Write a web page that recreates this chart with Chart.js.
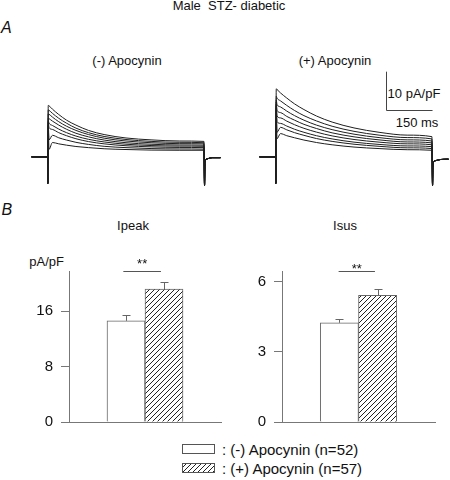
<!DOCTYPE html>
<html>
<head>
<meta charset="utf-8">
<script src="https://cdn.jsdelivr.net/npm/chart.js@4.4.0/dist/chart.umd.min.js"></script>
<style>
  body { margin: 0; background: #fff; }
  #fig { position: relative; width: 450px; height: 480px; overflow: hidden;
         font-family: 'Liberation Sans', Arial, sans-serif; color: #111; }
  .lbl { position: absolute; white-space: pre; line-height: 1; font-size: 13px; }
  .c { transform: translateX(-50%); }
  .r { transform: translateX(-100%); }
  canvas { position: absolute; }
</style>
</head>
<body>
<div id="fig">
  <div class="lbl c" style="left:229px; top:-1.5px;">Male  STZ- diabetic</div>
  <div class="lbl" style="left:1px; top:19.8px; font-size:16px; font-style:italic;">A</div>
  <div class="lbl c" style="left:127px; top:53.5px;">(-) Apocynin</div>
  <div class="lbl c" style="left:335px; top:53.5px;">(+) Apocynin</div>
  <div class="lbl c" style="left:414px; top:86.5px;">10 pA/pF</div>
  <div class="lbl c" style="left:417px; top:116.3px;">150 ms</div>
  <div class="lbl" style="left:1.5px; top:201.5px; font-size:16px; font-style:italic;">B</div>
  <div class="lbl c" style="left:133px; top:219px;">Ipeak</div>
  <div class="lbl c" style="left:345px; top:219px;">Isus</div>
  <div class="lbl r" style="left:64px; top:254.5px;">pA/pF</div>

  <canvas id="traceMinus" width="194" height="125" style="left:29px; top:66px;"></canvas>
  <canvas id="tracePlus" width="194" height="125" style="left:257px; top:66px;"></canvas>
  <canvas id="ipeak" width="201" height="190" style="left:24px; top:250px;"></canvas>
  <canvas id="isus" width="202" height="190" style="left:237px; top:250px;"></canvas>
  <div id="legend"></div>
</div>

<script>
// グループ
const groups = ['(-) Apocynin', '(+) Apocynin'];
const groupN = [52, 57];

// 棒グラフの値 (pA/pF)
const ipeakMean = [14.6, 19.2];
const ipeakSem = [0.8, 1.0];
const isusMean = [4.25, 5.43];
const isusSem = [0.18, 0.26];
const ipeakTicks = [0, 8, 16];
const isusTicks = [0, 3, 6];
const ipeakMax = 21.8;
const isusMax = 6.47;
const ipeakSig = [0.93, 1.92];
const isusSig = [0.98, 1.93];

// 電流トレース (ms, pA/pF)
const preTimes = [-52, -1, 0];
const preVals = [0, 0, -7];
const pulseTimes = [1.5, 4, 15, 35, 60, 90, 130, 180, 250, 330, 420, 499];
const tailTimes = [501, 502.5, 510, 525, 552];
const tailMinus = [-7.5, -1.4, -0.5, -0.2, -0.2];
const tailPlus = [-7.5, -1.8, -1.0, -0.7, -0.6];

const tracesMinus = [
  [13.6, 13.5, 12.6, 11.2, 9.7, 8.4, 7.0, 5.9, 5.0, 4.5, 4.2, 4.1],
  [12.4, 12.3, 11.5, 10.2, 8.9, 7.6, 6.4, 5.4, 4.6, 4.1, 3.85, 3.75],
  [11.3, 11.25, 10.5, 9.3, 8.1, 7.0, 5.9, 4.95, 4.2, 3.75, 3.5, 3.45],
  [10.2, 10.1, 9.45, 8.4, 7.3, 6.25, 5.3, 4.45, 3.75, 3.35, 3.15, 3.1],
  [9.5, 8.9, 8.3, 7.35, 6.4, 5.5, 4.65, 3.95, 3.35, 3.0, 2.85, 2.8],
  [9.0, 7.75, 7.25, 6.4, 5.6, 4.8, 4.05, 3.45, 2.95, 2.65, 2.5, 2.45],
  [8.5, 4.5, 5.7, 5.05, 4.45, 3.85, 3.3, 2.8, 2.45, 2.2, 2.1, 2.05],
  [8.0, 2.0, 3.8, 3.45, 3.1, 2.75, 2.45, 2.15, 1.95, 1.8, 1.75, 1.75]
];
const tracesPlus = [
  [18.0, 17.8, 16.9, 15.55, 14.0, 12.5, 10.8, 9.2, 7.65, 6.5, 5.75, 5.35],
  [16.0, 15.5, 14.8, 13.6, 12.25, 10.9, 9.5, 8.1, 6.75, 5.75, 5.1, 4.75],
  [15.0, 13.85, 13.2, 12.1, 10.9, 9.7, 8.4, 7.2, 6.0, 5.1, 4.5, 4.2],
  [14.5, 12.3, 11.7, 10.7, 9.7, 8.6, 7.5, 6.35, 5.3, 4.5, 3.95, 3.7],
  [14.0, 10.8, 10.3, 9.45, 8.5, 7.55, 6.55, 5.55, 4.6, 3.9, 3.45, 3.2],
  [13.5, 9.3, 8.85, 8.15, 7.3, 6.5, 5.6, 4.75, 3.9, 3.3, 2.9, 2.7],
  [13.0, 6.5, 7.8, 7.15, 6.4, 5.7, 4.85, 4.1, 3.35, 2.8, 2.4, 2.2],
  [12.5, 4.8, 6.15, 5.6, 5.05, 4.45, 3.8, 3.2, 2.6, 2.2, 1.9, 1.75]
];

// スケールバー (150 ms, 10 pA/pF)
const scaleBar = { t: 351, v: 12.5, ms: 150, amp: 10 };

const FONT = "'Liberation Sans', Arial, sans-serif";
const AXIS = '#777';

// 斜線パターン
function hatch() {
    const s = 5;
    const c = document.createElement('canvas');
    c.width = s; c.height = s;
    const g = c.getContext('2d');
    g.fillStyle = '#fff';
    g.fillRect(0, 0, s, s);
    g.strokeStyle = '#222';
    g.lineWidth = 1;
    g.beginPath();
    g.moveTo(0, s); g.lineTo(s, 0);
    g.moveTo(-1, 1); g.lineTo(1, -1);
    g.moveTo(s - 1, s + 1); g.lineTo(s + 1, s - 1);
    g.stroke();
    return g.createPattern(c, 'repeat');
}

// 誤差棒 (上側のみ)
const errorBars = {
    id: 'errorBars',
    afterDatasetsDraw(chart, args, opts) {
        const { ctx, scales: { y } } = chart;
        const data = chart.data.datasets[0].data;
        ctx.save();
        ctx.strokeStyle = '#666';
        ctx.lineWidth = 1;
        chart.getDatasetMeta(0).data.forEach((bar, i) => {
            const x = Math.round(bar.x) + 0.5;
            const top = Math.round(y.getPixelForValue(data[i].y + opts.sems[i])) + 0.5;
            ctx.beginPath();
            ctx.moveTo(x, bar.y);
            ctx.lineTo(x, top);
            ctx.moveTo(x - 4, top);
            ctx.lineTo(x + 4, top);
            ctx.stroke();
        });
        ctx.restore();
    }
};

// 有意差 (**)
const sigMark = {
    id: 'sigMark',
    afterDraw(chart, args, opts) {
        const { ctx, scales: { x, y } } = chart;
        const yy = Math.round(y.getPixelForValue(y.max)) + 0.5;
        const x0 = x.getPixelForValue(opts.from);
        const x1 = x.getPixelForValue(opts.to);
        ctx.save();
        ctx.strokeStyle = '#555';
        ctx.lineWidth = 1;
        ctx.beginPath();
        ctx.moveTo(x0, yy);
        ctx.lineTo(x1, yy);
        ctx.stroke();
        ctx.fillStyle = '#111';
        ctx.font = '13px ' + FONT;
        ctx.textAlign = 'center';
        ctx.textBaseline = 'top';
        ctx.fillText('**', (x0 + x1) / 2, yy - opts.gap);
        ctx.restore();
    }
};

// スケールバー描画
const scaleBarPlugin = {
    id: 'scaleBar',
    afterDatasetsDraw(chart, args, opts) {
        if (!opts.bar) return;
        const { ctx, scales: { x, y } } = chart;
        const b = opts.bar;
        const px = Math.round(x.getPixelForValue(b.t)) + 0.5;
        const py = Math.round(y.getPixelForValue(b.v)) + 0.5;
        ctx.save();
        ctx.strokeStyle = '#444';
        ctx.lineWidth = 1;
        ctx.beginPath();
        ctx.moveTo(px, y.getPixelForValue(b.v + b.amp));
        ctx.lineTo(px, py);
        ctx.lineTo(x.getPixelForValue(b.t + b.ms), py);
        ctx.stroke();
        ctx.restore();
    }
};

function traceChart(id, traces, tail, bar) {
    const datasets = traces.map(vals => ({
        data: [
            ...preTimes.map((t, i) => ({ x: t, y: preVals[i] })),
            ...pulseTimes.map((t, i) => ({ x: t, y: vals[i] })),
            ...tailTimes.map((t, i) => ({ x: t, y: tail[i] }))
        ],
        borderColor: '#1e1e1e',
        borderWidth: 1,
        pointRadius: 0,
        cubicInterpolationMode: 'monotone'
    }));
    return new Chart(document.getElementById(id), {
        type: 'line',
        data: { datasets },
        options: {
            responsive: false,
            animation: false,
            layout: { padding: 0 },
            plugins: { legend: { display: false }, tooltip: { enabled: false }, scaleBar: { bar } },
            scales: {
                x: { type: 'linear', display: false, min: -60, max: 560 },
                y: { display: false, min: -9, max: 24 }
            }
        },
        plugins: [scaleBarPlugin]
    });
}

function barChart(id, means, sems, ticks, yMax, sig, gap) {
    return new Chart(document.getElementById(id), {
        type: 'bar',
        data: {
            datasets: [{
                data: means.map((m, i) => ({ x: i + 1, y: m })),
                backgroundColor: ['#fff', hatch()],
                borderColor: '#666',
                borderWidth: 1,
                barPercentage: 1,
                categoryPercentage: 1
            }]
        },
        options: {
            responsive: false,
            animation: false,
            layout: { padding: { top: 21, right: 4, bottom: 18, left: 0 } },
            plugins: {
                legend: { display: false },
                tooltip: { enabled: false },
                errorBars: { sems },
                sigMark: { from: sig[0], to: sig[1], gap }
            },
            scales: {
                x: {
                    type: 'linear', min: 0, max: 3,
                    ticks: { display: false, stepSize: 1 },
                    grid: { display: false, drawTicks: false },
                    border: { color: AXIS }
                },
                y: {
                    min: 0, max: yMax,
                    afterBuildTicks: s => { s.ticks = ticks.map(v => ({ value: v })); },
                    afterFit: s => { s.width = 45; },
                    ticks: { color: '#111', padding: 8, font: { size: 15, family: FONT } },
                    grid: { drawOnChartArea: false, tickLength: 8, color: AXIS },
                    border: { color: AXIS }
                }
            }
        },
        plugins: [errorBars, sigMark]
    });
}

// 凡例
function buildLegend() {
    const legend = document.getElementById('legend');
    groups.forEach((name, i) => {
        const sw = document.createElement('canvas');
        sw.width = 33; sw.height = 10;
        sw.style.left = '182px';
        sw.style.top = (444 + i * 19) + 'px';
        const g = sw.getContext('2d');
        g.fillStyle = i === 0 ? '#fff' : hatch();
        g.fillRect(0, 0, 33, 10);
        g.strokeStyle = '#555';
        g.strokeRect(0.5, 0.5, 32, 9);
        legend.appendChild(sw);

        const t = document.createElement('div');
        t.className = 'lbl';
        t.style.fontSize = '15px';
        t.style.left = '222px';
        t.style.top = (441.5 + i * 19) + 'px';
        t.textContent = `: ${name} (n=${groupN[i]})`;
        legend.appendChild(t);
    });
}

traceChart('traceMinus', tracesMinus, tailMinus, null);
traceChart('tracePlus', tracesPlus, tailPlus, scaleBar);
barChart('ipeak', ipeakMean, ipeakSem, ipeakTicks, ipeakMax, ipeakSig, 14);
barChart('isus', isusMean, isusSem, isusTicks, isusMax, isusSig, 9);
buildLegend();
</script>
</body>
</html>
